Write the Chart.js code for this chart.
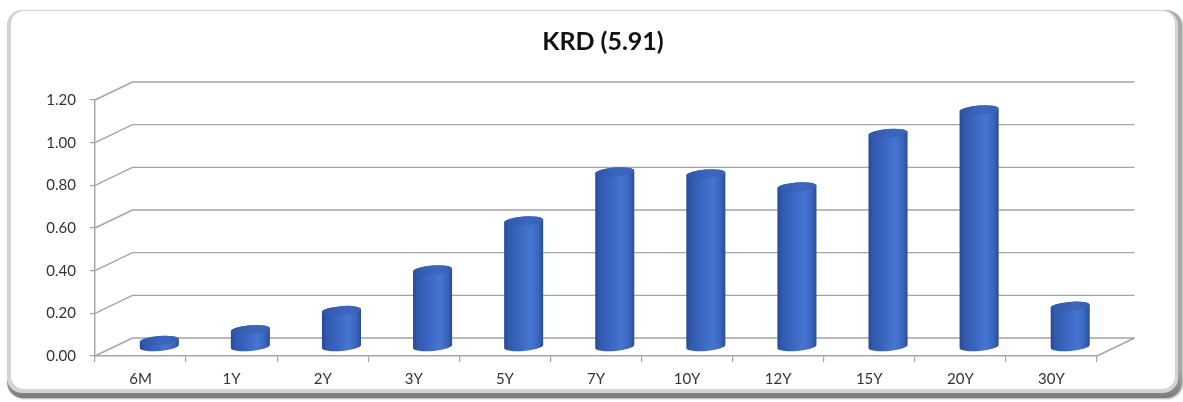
<!DOCTYPE html>
<html>
<head>
<meta charset="utf-8">
<script src="https://cdn.jsdelivr.net/npm/chart.js@4.4.1/dist/chart.umd.min.js"></script>
<style>
  html, body { margin: 0; padding: 0; background: #ffffff; }
  #wrap { width: 1183px; height: 402px; }
</style>
</head>
<body>
<div id="wrap"><canvas id="krd" width="1183" height="402"></canvas></div>
<script>
// Key rate durations by tenor
const categories = ['6M', '1Y', '2Y', '3Y', '5Y', '7Y', '10Y', '12Y', '15Y', '20Y', '30Y'];
const krdValues = [0.03, 0.08, 0.17, 0.36, 0.59, 0.82, 0.81, 0.75, 1.00, 1.11, 0.19];
const yMin = 0;
const yMax = 1.2;
const yStep = 0.2;
const chartTitle = 'KRD (5.91)';

// Perspective offset of the back wall relative to the front plane
const DEPTH_X = 37.5;
const DEPTH_Y = -18;
const GRID_COLOR = '#a4a4a4';
const FONT = 'Lato, "Open Sans", sans-serif';

// Rounded, bevelled panel behind the whole chart
const panelPlugin = {
  id: 'panel',
  beforeDraw(chart) {
    const ctx = chart.ctx;
    ctx.save();
    ctx.fillStyle = '#ffffff';
    ctx.fillRect(0, 0, chart.width, chart.height);

    ctx.shadowColor = 'rgba(0,0,0,0.3)';
    ctx.shadowBlur = 2;
    ctx.shadowOffsetX = 1;
    ctx.shadowOffsetY = 1;
    const outer = ctx.createLinearGradient(0, 370, 0, 398);
    outer.addColorStop(0, '#a8a8a8');
    outer.addColorStop(1, '#7c7c7c');
    ctx.beginPath();
    ctx.roundRect(7, 10, 1175, 388, 16);
    ctx.fillStyle = outer;
    ctx.fill();
    ctx.restore();

    ctx.save();
    ctx.beginPath();
    ctx.roundRect(7, 10, 1171, 383, 15);
    ctx.fillStyle = '#d4d4d4';
    ctx.fill();
    ctx.beginPath();
    ctx.roundRect(11, 11, 1164, 378, 13);
    ctx.fillStyle = '#ffffff';
    ctx.fill();
    ctx.restore();
  }
};

// Back wall gridlines, side-wall diagonals and the floor edge
const wallPlugin = {
  id: 'wall',
  beforeDatasetsDraw(chart) {
    const { ctx, chartArea: a, scales: { y } } = chart;
    ctx.save();
    ctx.strokeStyle = GRID_COLOR;
    ctx.lineWidth = 1.4;
    y.ticks.forEach(t => {
      const py = y.getPixelForValue(t.value);
      ctx.beginPath();
      ctx.moveTo(a.left, py);
      ctx.lineTo(a.left + DEPTH_X, py + DEPTH_Y);
      ctx.lineTo(a.right + DEPTH_X, py + DEPTH_Y);
      ctx.stroke();
    });
    const base = y.getPixelForValue(yMin);
    ctx.beginPath();
    ctx.moveTo(a.right, base);
    ctx.lineTo(a.right + DEPTH_X, base + DEPTH_Y);
    ctx.stroke();
    ctx.restore();
  }
};

// Each bar is rendered as a shaded cylinder standing mid-way into the depth
const cylinderPlugin = {
  id: 'cylinders',
  afterDatasetsDraw(chart) {
    const ctx = chart.ctx;
    const meta = chart.getDatasetMeta(0);
    ctx.save();
    meta.data.forEach(bar => {
      const p = bar.getProps(['x', 'y', 'base', 'width'], true);
      const cx = p.x + DEPTH_X / 2;
      const ty = p.y + DEPTH_Y / 2;
      const by = p.base + DEPTH_Y / 2;
      const rx = p.width / 2;
      const ry = 4.6;
      const rot = -0.08;
      const ex = rx * Math.cos(rot);
      const ey = rx * Math.sin(rot);

      const body = ctx.createLinearGradient(cx - rx, 0, cx + rx, 0);
      body.addColorStop(0, '#264a94');
      body.addColorStop(0.12, '#3159ad');
      body.addColorStop(0.45, '#3d69c4');
      body.addColorStop(0.68, '#4675d2');
      body.addColorStop(0.88, '#3a64bb');
      body.addColorStop(1, '#284c96');
      ctx.beginPath();
      ctx.moveTo(cx - ex, ty - ey);
      ctx.lineTo(cx - ex, by - ey);
      ctx.ellipse(cx, by, rx, ry, rot, Math.PI, 0, true);
      ctx.lineTo(cx + ex, ty + ey);
      ctx.ellipse(cx, ty, rx, ry, rot, 0, Math.PI, true);
      ctx.closePath();
      ctx.fillStyle = body;
      ctx.fill();

      const cap = ctx.createLinearGradient(cx - rx, ty, cx + rx, ty);
      cap.addColorStop(0, '#2f56a6');
      cap.addColorStop(0.6, '#3d67bf');
      cap.addColorStop(1, '#3960b5');
      ctx.beginPath();
      ctx.ellipse(cx, ty, rx, ry, rot, 0, Math.PI * 2);
      ctx.fillStyle = cap;
      ctx.fill();
    });
    ctx.restore();
  }
};

new Chart(document.getElementById('krd'), {
  type: 'bar',
  data: {
    labels: categories,
    datasets: [{
      label: 'KRD',
      data: krdValues,
      backgroundColor: 'rgba(0,0,0,0)',
      borderWidth: 0,
      categoryPercentage: 0.43,
      barPercentage: 1.0
    }]
  },
  options: {
    responsive: false,
    animation: false,
    events: [],
    layout: { padding: { left: 23, right: 0, top: 0, bottom: 0 } },
    plugins: {
      legend: { display: false },
      tooltip: { enabled: false },
      title: {
        display: true,
        text: chartTitle,
        color: '#111111',
        font: { family: FONT, size: 25, weight: 'bold', lineHeight: 1.2 },
        padding: { top: 27, bottom: 43 }
      }
    },
    scales: {
      x: {
        offset: true,
        grid: { display: true, drawOnChartArea: false, drawTicks: true, tickLength: 6, offset: true, color: GRID_COLOR, lineWidth: 1.2 },
        border: { display: true, color: GRID_COLOR, width: 1.4 },
        ticks: { color: '#333333', padding: 8, font: { family: FONT, size: 15 } },
        afterFit(scale) { scale.height = 46; }
      },
      y: {
        min: yMin,
        max: yMax,
        grid: { display: true, drawOnChartArea: false, drawTicks: true, tickLength: 5, color: GRID_COLOR, lineWidth: 1.2 },
        border: { display: true, color: GRID_COLOR, width: 1.4 },
        ticks: {
          stepSize: yStep,
          color: '#333333',
          padding: 14,
          font: { family: FONT, size: 15 },
          callback: v => Number(v).toFixed(2)
        },
        afterFit(scale) { scale.width = 72; }
      },
      yRight: {
        position: 'right',
        display: true,
        min: 0,
        max: 1,
        grid: { display: false, drawOnChartArea: false },
        border: { display: false },
        ticks: { display: false },
        afterFit(scale) { scale.width = 86; }
      }
    }
  },
  plugins: [panelPlugin, wallPlugin, cylinderPlugin]
});
</script>
</body>
</html>
